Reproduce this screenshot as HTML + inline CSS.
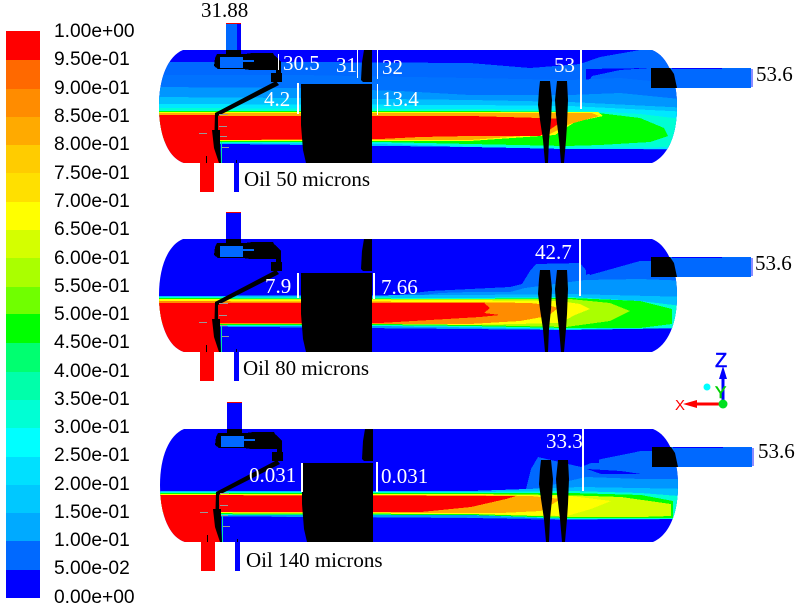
<!DOCTYPE html>
<html><head><meta charset="utf-8"><style>
html,body{margin:0;padding:0;background:#fff;width:801px;height:605px;overflow:hidden}
svg{display:block}
.l{font:19.2px "Liberation Sans",sans-serif;fill:#000}
.w{font:21px "Liberation Serif",serif;fill:#fff}
.b{font:21px "Liberation Serif",serif;fill:#000}
</style></head><body>
<svg width="801" height="605" viewBox="0 0 801 605" xmlns="http://www.w3.org/2000/svg" shape-rendering="crispEdges">
<defs>
<clipPath id="tank"><path d="M183 50H652C668 56 677 80 677 106C677 135 668 156 652 163H184C168 158 159 135 159 106C159 78 168 56 183 50Z"/></clipPath>
<g id="parts">
<rect x="226" y="50" width="15" height="4" fill="#000"/>
<path d="M217 54H245L252 53H273L276 58 276 70 250 70 243 69 218 69 214 66 215 58Z" fill="#000"/>
<rect x="220" y="57" width="23" height="11" fill="#0069ff"/>
<rect x="243" y="60" width="11" height="2" fill="#0069ff"/>
<path d="M275 56L281 62V73H282V82H271V73H276V62Z" fill="#000"/>
<path d="M276 81L279 85 218 116 218 131 214.500 131 215 113Z" fill="#000" shape-rendering="auto"/>
<path d="M212 130H220L220 150 221 163H219L214 148Z" fill="#000" shape-rendering="auto"/>
<path d="M301 84H372V163H306L303 150 301 125Z" fill="#000" shape-rendering="auto"/>
<path d="M364 50H372V82H363L361 80 362 62Z" fill="#000" shape-rendering="auto"/>
<path d="M540 81H550L552 100 551 120 549 140 548 163H545L543 140 540 120 538 105 539 90Z" fill="#000" shape-rendering="auto"/>
<path d="M557 81H567L568 100 567 125 566 140 564 163H561L559 140 556 115 555 100Z" fill="#000" shape-rendering="auto"/>
<g fill="#999"><rect x="219" y="114" width="9" height="1"/><rect x="219" y="126" width="8" height="1"/><rect x="199" y="133" width="8" height="1"/><rect x="220" y="136" width="7" height="1"/><rect x="222" y="147" width="7" height="1"/></g>
<rect x="206" y="156" width="1" height="8" fill="#000"/>
<rect x="236" y="160" width="1" height="4" fill="#000"/>
<rect x="200" y="163" width="14" height="29" fill="#f00"/>
<rect x="234" y="163" width="5" height="29" fill="#00f"/>
</g>
<g id="outlet">
<rect x="651" y="68" width="100" height="20" fill="#0069ff"/>
<rect x="672" y="68" width="50" height="1" fill="#00f"/>
<rect x="751" y="69" width="2" height="18" fill="#8c8cff"/>
<path d="M651 68H670L674 74 677 88H651Z" fill="#000" shape-rendering="auto"/>
</g>
</defs>

<rect width="801" height="605" fill="#fff"/>

<!-- legend -->
<g>
<rect x="6" y="31" width="34" height="29" fill="#ff0000"/>
<rect x="6" y="60" width="34" height="29" fill="#ff6900"/>
<rect x="6" y="89" width="34" height="28" fill="#ff8c00"/>
<rect x="6" y="117" width="34" height="28" fill="#ffaa00"/>
<rect x="6" y="145" width="34" height="28" fill="#ffcc00"/>
<rect x="6" y="173" width="34" height="29" fill="#ffe000"/>
<rect x="6" y="202" width="34" height="28" fill="#ffff00"/>
<rect x="6" y="230" width="34" height="28" fill="#d4ff00"/>
<rect x="6" y="258" width="34" height="29" fill="#aaff00"/>
<rect x="6" y="287" width="34" height="27" fill="#70ff00"/>
<rect x="6" y="314" width="34" height="29" fill="#00ff00"/>
<rect x="6" y="343" width="34" height="29" fill="#00ff70"/>
<rect x="6" y="372" width="34" height="28" fill="#00ffaa"/>
<rect x="6" y="400" width="34" height="28" fill="#00ffd4"/>
<rect x="6" y="428" width="34" height="29" fill="#00ffff"/>
<rect x="6" y="457" width="34" height="28" fill="#00e0ff"/>
<rect x="6" y="485" width="34" height="28" fill="#00c8ff"/>
<rect x="6" y="513" width="34" height="28" fill="#00aaff"/>
<rect x="6" y="541" width="34" height="29" fill="#0069ff"/>
<rect x="6" y="570" width="34" height="28" fill="#0000ff"/>
</g>
<g class="l">
<text class="l" x="54" y="37">1.00e+00</text>
<text class="l" x="54" y="65">9.50e-01</text>
<text class="l" x="54" y="94">9.00e-01</text>
<text class="l" x="54" y="122">8.50e-01</text>
<text class="l" x="54" y="150">8.00e-01</text>
<text class="l" x="54" y="179">7.50e-01</text>
<text class="l" x="54" y="207">7.00e-01</text>
<text class="l" x="54" y="235">6.50e-01</text>
<text class="l" x="54" y="264">6.00e-01</text>
<text class="l" x="54" y="292">5.50e-01</text>
<text class="l" x="54" y="320">5.00e-01</text>
<text class="l" x="54" y="348">4.50e-01</text>
<text class="l" x="54" y="377">4.00e-01</text>
<text class="l" x="54" y="405">3.50e-01</text>
<text class="l" x="54" y="433">3.00e-01</text>
<text class="l" x="54" y="461">2.50e-01</text>
<text class="l" x="54" y="490">2.00e-01</text>
<text class="l" x="54" y="518">1.50e-01</text>
<text class="l" x="54" y="546">1.00e-01</text>
<text class="l" x="54" y="574">5.00e-02</text>
<text class="l" x="54" y="603">0.00e+00</text>
</g>

<!-- TANK 1 -->
<g>
<rect x="226" y="23" width="15" height="27" fill="#0069ff"/><rect x="237" y="23" width="4" height="27" fill="#00f"/><rect x="226" y="23" width="15" height="1" fill="#e00"/>
<g clip-path="url(#tank)">
<rect x="150" y="45" width="540" height="125" fill="#00f"/>
<polygon points="150,62 300,62 470,63 530,68 580,64 600,57 640,50 690,50 690,150 566,148 470,147 380,144 222,143 150,143" fill="#0069ff"/>
<polygon points="586,69 650,68 620,70 592,76 586,86" fill="#00f"/>
<polygon points="150,75 300,75 470,78 570,80 620,78 690,85 690,148 566,147 470,147 150,143" fill="#0072ff"/>
<polygon points="150,87 300,88 400,91 470,95 570,95 620,93 690,100 690,148 566,147 470,147 150,143" fill="#0096ff"/>
<polygon points="150,97 300,98 470,100 570,102 690,108 690,148 566,148 470,147 150,143" fill="#00c0ff"/>
<polygon points="150,104 470,105 570,106 690,112 690,149 566,149 470,147 380,144 222,143 150,143" fill="#00e8ff"/>
<polygon points="150,108 470,109 570,110 640,114 690,120 690,147 566,148 470,146 380,143 222,143 150,143" fill="#00ffd4"/>
<polygon points="150,111 470,111 590,112 640,118 664,128 668,136 650,142 600,145 566,146 470,144 380,142 222,142 150,142" fill="#00ff00"/>
<polygon points="150,112 470,112 598,112 603,116 575,122 555,135 470,141 380,141 222,141 150,141" fill="#ffff00"/>
<polygon points="150,113 470,113 592,113 599,116 570,124 550,134 470,140 380,140 222,140 150,140" fill="#ffaa00"/>
<polygon points="150,116 470,116 540,118 566,119 540,136 470,136 420,137 380,139 222,140 150,140" fill="#f00"/>
<polygon points="150,115 216,115 220,163 150,163" fill="#f00"/>
<rect x="221" y="142" width="1" height="21" fill="#00e8a0"/>
</g>
<use href="#outlet"/>
<use href="#parts"/>
<g fill="#fff"><rect x="278" y="54" width="1" height="16"/><rect x="357" y="50" width="1" height="28"/><rect x="377" y="50" width="1" height="29"/><rect x="377" y="84" width="1" height="31"/><rect x="297" y="83" width="2" height="31"/><rect x="580" y="50" width="2" height="59"/></g>
<text class="b" x="201" y="17">31.88</text>
<text class="w" x="283" y="70">30.5</text>
<text class="w" x="336" y="72">31</text>
<text class="w" x="382" y="74">32</text>
<text class="w" x="264" y="106">4.2</text>
<text class="w" x="382" y="106">13.4</text>
<text class="w" x="554" y="72">53</text>
<text class="b" x="756" y="81">53.6</text>
<text class="b" x="244" y="186">Oil 50 microns</text>
</g>

<!-- TANK 2 -->
<g transform="translate(0,189)">
<rect x="226" y="23" width="15" height="27" fill="#00f"/><rect x="226" y="23" width="15" height="1" fill="#e00"/>
<g clip-path="url(#tank)">
<rect x="150" y="45" width="540" height="125" fill="#00f"/>
<polygon points="430,102 470,100 510,98 522,95 530,82 536,75 580,74 590,86 640,72 690,72 690,139 566,141 470,139 380,137 150,137" fill="#0069ff"/>
<polygon points="586,70 650,69 620,72 592,76 590,80 600,80 586,86" fill="#00f"/>
<polygon points="440,104 470,103 510,103 525,99 585,91 640,90 690,92 690,139 566,141 150,137" fill="#0096ff"/>
<polygon points="150,107 470,106 570,105 690,108 690,139 566,141 470,139 380,137 150,137" fill="#00c0ff"/>
<polygon points="150,108 470,109 570,108 640,112 690,118 690,139 566,140 470,138 380,137 150,137" fill="#00ffd4"/>
<polygon points="150,109 470,110 570,109 640,112 672,120 672,135 640,139 566,139 470,137 380,136 150,136" fill="#00ff00"/>
<polygon points="150,110 470,110 570,110 610,114 630,122 610,132 566,138 470,136 380,135 150,135" fill="#aaff00"/>
<polygon points="150,110 470,111 560,112 580,115 590,120 575,126 560,134 470,136 380,135 150,135" fill="#ffff00"/>
<polygon points="150,112 470,113 530,114 548,116 558,119 548,127 520,132 470,135 380,135 150,135" fill="#ff8c00"/>
<polygon points="150,114 484,114 490,119 484,124 500,126 480,128 380,134 150,134" fill="#f00"/>
<polygon points="150,114 216,114 220,163 150,163" fill="#f00"/>
<rect x="221" y="136" width="1" height="27" fill="#00e8a0"/>
</g>
<use href="#outlet"/>
<use href="#parts"/>
<g fill="#fff"><rect x="297" y="84" width="2" height="25"/><rect x="373" y="84" width="2" height="26"/><rect x="579" y="50" width="2" height="57"/></g>
<text class="w" x="265" y="104">7.9</text>
<text class="w" x="381" y="105">7.66</text>
<text class="w" x="535" y="70">42.7</text>
<text class="b" x="755" y="81">53.6</text>
<text class="b" x="243" y="186">Oil 80 microns</text>
</g>

<!-- TANK 3 -->
<g transform="translate(1,379)">
<rect x="226" y="23" width="15" height="27" fill="#00f"/><rect x="226" y="23" width="15" height="1" fill="#e00"/>
<g clip-path="url(#tank)">
<rect x="150" y="45" width="540" height="125" fill="#00f"/>
<polygon points="500,112 525,110 530,90 537,78 580,88 600,80 640,72 690,72 690,140 566,141 470,139 150,137" fill="#0069ff"/>
<polygon points="586,68 650,68 650,69 586,70" fill="#00f"/>
<polygon points="590,78 598,78 598,84 586,84" fill="#00f"/>
<polygon points="586,90 620,92 640,95 600,95" fill="#00f"/>
<polygon points="470,113 525,112 585,98 640,100 690,100 690,140 150,137" fill="#0096ff"/>
<polygon points="150,112 470,112 580,108 690,110 690,140 566,140 470,136 150,136" fill="#00c0ff"/>
<polygon points="150,113 470,113 570,112 640,114 690,118 690,140 566,140 470,136 150,136" fill="#00ffd4"/>
<polygon points="150,114 470,114 570,114 640,116 672,122 672,139 566,139 470,136 150,135" fill="#00ff00"/>
<polygon points="150,115 470,115 560,116 620,118 670,125 670,137 640,138 566,138 470,135 150,134" fill="#d4ff00"/>
<polygon points="150,115 470,115 570,117 610,122 590,130 566,137 470,135 150,134" fill="#ffff00"/>
<polygon points="150,116 470,116 530,117 560,120 540,132 500,134 470,134 150,133" fill="#ffaa00"/>
<polygon points="150,116 515,117 505,120 470,128 420,133 150,133" fill="#f00"/>
<polygon points="150,116 216,116 220,163 150,163" fill="#f00"/>
<rect x="221" y="136" width="1" height="27" fill="#00e8a0"/>
</g>
<use href="#outlet"/>
<use href="#parts"/>
<g fill="#fff"><rect x="300" y="84" width="2" height="29"/><rect x="375" y="83" width="2" height="30"/><rect x="581" y="50" width="2" height="62"/></g>
<text class="w" x="248" y="103">0.031</text>
<text class="w" x="380" y="104">0.031</text>
<text class="w" x="545" y="69">33.3</text>
<text class="b" x="757" y="79">53.6</text>
<text class="b" x="245" y="188">Oil 140 microns</text>
</g>

<!-- axes -->
<g shape-rendering="auto">
<rect x="695" y="402.500" width="28" height="3" fill="#f00"/>
<polygon points="683,404 697,400 697,408" fill="#f00"/>
<rect x="721.500" y="375" width="3" height="29" fill="#00f"/>
<polygon points="723,366 727,379 719,379" fill="#00f"/>
<circle cx="707" cy="387" r="3.500" fill="#00ffff"/>
<text x="715" y="398" style="font:17px 'Liberation Sans',sans-serif;fill:#00d000;stroke:#00d000;stroke-width:.5">Y</text>
<circle cx="723" cy="404" r="4.500" fill="#00e020"/>
<text x="715" y="367" style="font:20px 'Liberation Sans',sans-serif;fill:#00f;stroke:#00f;stroke-width:.5">Z</text>
<text x="675" y="410" style="font:15px 'Liberation Sans',sans-serif;fill:#f00">X</text>
</g>
</svg>
</body></html>
